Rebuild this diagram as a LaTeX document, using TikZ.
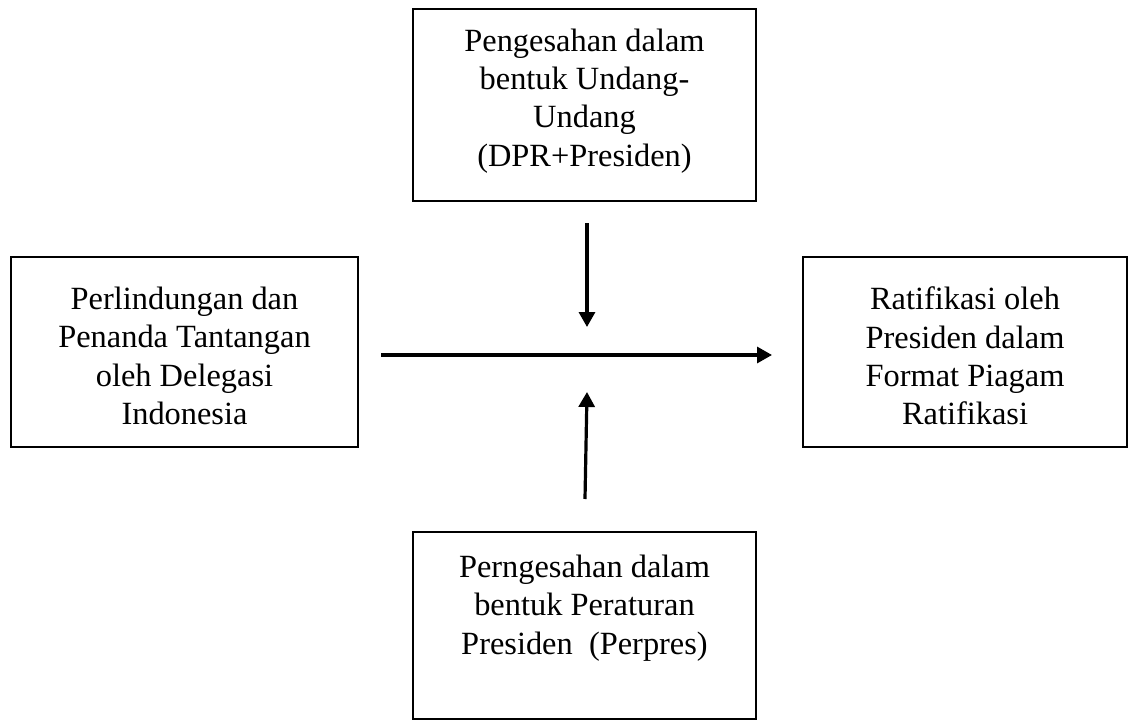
\documentclass[tikz,border=0pt]{standalone}
\usepackage{fontspec}
\setmainfont{Liberation Serif}
\usetikzlibrary{arrows.meta}
\tikzset{
  box/.style={draw, line width=1.2pt, inner sep=0pt, outer sep=0pt},
  txt/.style={align=center, inner sep=0pt, font=\fontsize{16.2}{19.2}\selectfont},
  conn/.style={line width=1.6pt, -{Triangle[length=7.5pt,width=8pt]}}
}
\begin{document}
\begin{tikzpicture}[x=0.5pt,y=-0.5pt]
\useasboundingbox (0,0) rectangle (1130,722);
% boxes
\node[box, minimum width=171.5pt, minimum height=96pt] (topbox) at (584.5,105) {};
\node[box, minimum width=173.5pt, minimum height=95pt] (leftbox) at (184.5,352) {};
\node[box, minimum width=162pt, minimum height=95pt] (rightbox) at (965,352) {};
\node[box, minimum width=171.5pt, minimum height=93.5pt] (botbox) at (584.5,625.5) {};
% texts
\node[txt] (toptext) at (584.5,101) {Pengesahan dalam\\bentuk Undang-\\Undang\\(DPR+Presiden)};
\node[txt] (lefttext) at (184.5,356) {Perlindungan dan\\Penanda Tantangan\\oleh Delegasi\\Indonesia};
\node[txt] (righttext) at (965,356) {Ratifikasi oleh\\Presiden dalam\\Format Piagam\\Ratifikasi};
\node[txt] (bottext) at (584.5,608) {Perngesahan dalam\\bentuk Peraturan\\Presiden\ \ (Perpres)};
% connector ends
\coordinate (hstart) at (381,355);
\coordinate (hend) at (772,355);
\coordinate (dstart) at (587,223);
\coordinate (dend) at (587,327);
\coordinate (ustart) at (585,499);
\coordinate (uend) at (587,392);
\draw[conn] (hstart) -- (hend);
\draw[conn] (dstart) -- (dend);
\draw[conn] (ustart) -- (uend);
\end{tikzpicture}
\end{document}
